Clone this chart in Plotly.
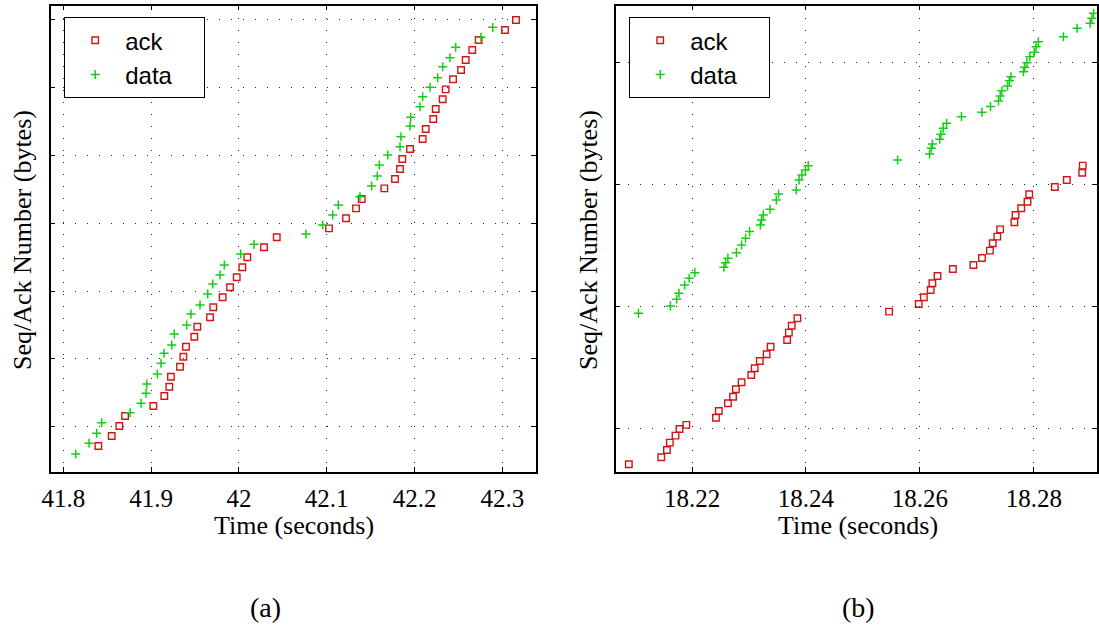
import plotly.graph_objects as go

# ---------------- data (panel a) ----------------
a_ack_t = [41.8399, 41.8551, 41.8638, 41.8703, 41.9025, 41.9150, 41.9207, 41.9226, 41.9329, 41.9367,
           41.9397, 41.9492, 41.9526, 41.9671, 41.9708, 41.9815, 41.9899, 41.9975, 42.0039, 42.0096,
           42.0286, 42.0431, 42.1026, 42.1220, 42.1334, 42.1399, 42.1656, 42.1778, 42.1835, 42.1861,
           42.1949, 42.2093, 42.2128, 42.2214, 42.2242, 42.2321, 42.2355, 42.2439, 42.2530, 42.2583,
           42.2658, 42.2731, 42.3031, 42.3156]
a_ack_v = [-0.285, -0.137, 0.010, 0.158, 0.305, 0.453, 0.590, 0.737, 0.885, 1.032,
           1.180, 1.327, 1.475, 1.614, 1.761, 1.909, 2.056, 2.204, 2.351, 2.499,
           2.646, 2.794, 2.926, 3.074, 3.221, 3.358, 3.516, 3.653, 3.801, 3.948,
           4.096, 4.243, 4.391, 4.538, 4.686, 4.829, 4.976, 5.124, 5.261, 5.409,
           5.556, 5.704, 5.851, 5.999]
a_data_t = [41.8141, 41.8293, 41.8380, 41.8437, 41.8760, 41.8885, 41.8942, 41.8950, 41.9071, 41.9113,
            41.9147, 41.9235, 41.9264, 41.9405, 41.9454, 41.9557, 41.9645, 41.9702, 41.9785, 41.9834,
            42.0020, 42.0172, 42.0764, 42.0954, 42.1068, 42.1132, 42.1379, 42.1512, 42.1576, 42.1599,
            42.1695, 42.1835, 42.1846, 42.1949, 42.1957, 42.2063, 42.2093, 42.2177, 42.2264, 42.2321,
            42.2404, 42.2469, 42.2757, 42.2891]
a_data_v = [-0.403, -0.245, -0.097, 0.059, 0.206, 0.345, 0.493, 0.630, 0.777, 0.935,
            1.083, 1.205, 1.367, 1.500, 1.662, 1.795, 1.957, 2.105, 2.237, 2.385,
            2.547, 2.690, 2.842, 2.975, 3.122, 3.270, 3.392, 3.550, 3.698, 3.860,
            4.007, 4.130, 4.277, 4.435, 4.563, 4.720, 4.867, 5.006, 5.147, 5.310,
            5.442, 5.596, 5.743, 5.891]
a_ticks = [41.8, 41.9, 42.0, 42.1, 42.2, 42.3]
a_ticklabels = ["41.8", "41.9", "42", "42.1", "42.2", "42.3"]

# ---------------- data (panel b) ----------------
b_ack_t = [18.2089, 18.2146, 18.2156, 18.2161, 18.2171, 18.2178, 18.2190, 18.2242, 18.2247, 18.2263,
           18.2272, 18.2277, 18.2287, 18.2304, 18.2310, 18.2319, 18.2331, 18.2338, 18.2367, 18.2370,
           18.2375, 18.2385, 18.2546, 18.2598, 18.2607, 18.2619, 18.2622, 18.2631, 18.2658, 18.2694,
           18.2709, 18.2723, 18.2728, 18.2736, 18.2741, 18.2766, 18.2768, 18.2778, 18.2789, 18.2792,
           18.2837, 18.2858, 18.2885, 18.2886]
b_ack_v = [-0.289, -0.232, -0.172, -0.112, -0.055, 0.000, 0.033, 0.092, 0.147, 0.210,
           0.264, 0.325, 0.382, 0.442, 0.497, 0.556, 0.611, 0.673, 0.728, 0.788,
           0.845, 0.906, 0.960, 1.023, 1.078, 1.137, 1.192, 1.252, 1.309, 1.342,
           1.399, 1.459, 1.520, 1.574, 1.633, 1.692, 1.751, 1.806, 1.860, 1.921,
           1.980, 2.038, 2.097, 2.155]
b_data_t = [18.2106, 18.2162, 18.2173, 18.2177, 18.2187, 18.2195, 18.2205, 18.2256, 18.2259, 18.2263,
            18.2278, 18.2287, 18.2294, 18.2301, 18.2320, 18.2322, 18.2325, 18.2337, 18.2348, 18.2352,
            18.2383, 18.2388, 18.2393, 18.2399, 18.2404, 18.2561, 18.2617, 18.2620, 18.2622, 18.2635,
            18.2637, 18.2641, 18.2647, 18.2673, 18.2709, 18.2724, 18.2738, 18.2741, 18.2744, 18.2754,
            18.2757, 18.2760, 18.2782, 18.2784, 18.2788, 18.2793, 18.2801, 18.2804, 18.2808, 18.2852,
            18.2876, 18.2899, 18.2902, 18.2905]
b_data_v = [0.947, 1.007, 1.061, 1.110, 1.178, 1.233, 1.279, 1.323, 1.361, 1.397,
            1.443, 1.506, 1.561, 1.615, 1.669, 1.710, 1.751, 1.798, 1.874, 1.923,
            1.956, 2.038, 2.079, 2.119, 2.155, 2.201, 2.250, 2.297, 2.332, 2.371,
            2.412, 2.461, 2.502, 2.556, 2.592, 2.638, 2.684, 2.725, 2.768, 2.807,
            2.850, 2.883, 2.924, 2.960, 2.998, 3.047, 3.083, 3.128, 3.169, 3.210,
            3.279, 3.320, 3.361, 3.402]
b_ticks = [18.22, 18.24, 18.26, 18.28]
b_ticklabels = ["18.22", "18.24", "18.26", "18.28"]

series_names = ["ack", "data"]

RED = "rgb(212,20,20)"
GREEN = "rgb(20,205,20)"
SERIF = "Liberation Serif, Times New Roman, serif"
SANS = "Liberation Sans, Arial, sans-serif"

W, H = 1099, 630
PAD = "\u00a0" * 4  # trailing space to widen the legend box like the original

fig = go.Figure()

ack_marker = dict(symbol="square-open", size=6.5, color=RED, line=dict(color=RED, width=1.4))
data_marker = dict(symbol="cross-thin-open", size=6.5, color=GREEN, line=dict(color=GREEN, width=1.5))

fig.add_trace(go.Scatter(x=a_ack_t, y=a_ack_v, mode="markers", name=series_names[0] + PAD,
                         marker=ack_marker, xaxis="x", yaxis="y", legend="legend"))
fig.add_trace(go.Scatter(x=a_data_t, y=a_data_v, mode="markers", name=series_names[1] + PAD,
                         marker=data_marker, xaxis="x", yaxis="y", legend="legend"))
fig.add_trace(go.Scatter(x=b_ack_t, y=b_ack_v, mode="markers", name=series_names[0] + PAD,
                         marker=ack_marker, xaxis="x2", yaxis="y2", legend="legend2"))
fig.add_trace(go.Scatter(x=b_data_t, y=b_data_v, mode="markers", name=series_names[1] + PAD,
                         marker=data_marker, xaxis="x2", yaxis="y2", legend="legend2"))

grid = dict(showgrid=True, gridcolor="#222", gridwidth=1, griddash="1px,11px",
            showline=True, linecolor="black", linewidth=1.5, mirror="ticks",
            ticks="inside", ticklen=5, tickcolor="black", zeroline=False, automargin=False)

ydom = [1 - 471.7 / H, 1 - 5.7 / H]
xa_dom = [50.7 / W, 536 / W]
xb_dom = [615.7 / W, 1097 / W]

tickfont = dict(family=SERIF, size=25, color="black")
legfont = dict(family=SANS, size=24, color="black")

leg_common = dict(y=1 - 17 / H, xanchor="left", yanchor="top",
                  bordercolor="black", borderwidth=1.2, bgcolor="white",
                  font=legfont, itemwidth=50, tracegroupgap=0)

fig.update_layout(
    template="none",
    font=dict(family=SERIF, color="black"),
    width=W, height=H, autosize=False,
    margin=dict(l=0, r=0, t=0, b=0, pad=0, autoexpand=False),
    paper_bgcolor="white", plot_bgcolor="white",
    xaxis=dict(domain=xa_dom, range=[41.7856, 42.3384], tickvals=a_ticks, ticktext=a_ticklabels,
               tickfont=tickfont, ticklabelstandoff=4, anchor="y", **grid),
    yaxis=dict(domain=ydom, range=[-0.664, 6.21], tick0=0, dtick=1, showticklabels=False,
               anchor="x", **grid),
    xaxis2=dict(domain=xb_dom, range=[18.2066, 18.2911], tickvals=b_ticks, ticktext=b_ticklabels,
                tickfont=tickfont, ticklabelstandoff=4, anchor="y2", **grid),
    yaxis2=dict(domain=ydom, range=[-0.35, 3.464], tick0=0, dtick=1, showticklabels=False,
                anchor="x2", **grid),
    legend=dict(x=64 / W, **leg_common),
    legend2=dict(x=629 / W, **leg_common),
    showlegend=True,
)

ann_font = dict(family=SERIF, size=26, color="black")
annotations = [
    dict(text="Time (seconds)", x=294 / W, y=1 - 525 / H, xref="paper", yref="paper",
         showarrow=False, font=ann_font, xanchor="center", yanchor="middle"),
    dict(text="Time (seconds)", x=858 / W, y=1 - 525 / H, xref="paper", yref="paper",
         showarrow=False, font=ann_font, xanchor="center", yanchor="middle"),
    dict(text="Seq/Ack Number (bytes)", x=22 / W, y=1 - 240 / H, xref="paper", yref="paper",
         showarrow=False, font=ann_font, textangle=-90, xanchor="center", yanchor="middle"),
    dict(text="Seq/Ack Number (bytes)", x=588 / W, y=1 - 240 / H, xref="paper", yref="paper",
         showarrow=False, font=ann_font, textangle=-90, xanchor="center", yanchor="middle"),
    dict(text="(a)", x=265 / W, y=1 - 607 / H, xref="paper", yref="paper",
         showarrow=False, font=dict(family=SERIF, size=28, color="black"),
         xanchor="center", yanchor="middle"),
    dict(text="(b)", x=858 / W, y=1 - 607 / H, xref="paper", yref="paper",
         showarrow=False, font=dict(family=SERIF, size=28, color="black"),
         xanchor="center", yanchor="middle"),
]
fig.update_layout(annotations=annotations)

fig.write_html("out.html")
